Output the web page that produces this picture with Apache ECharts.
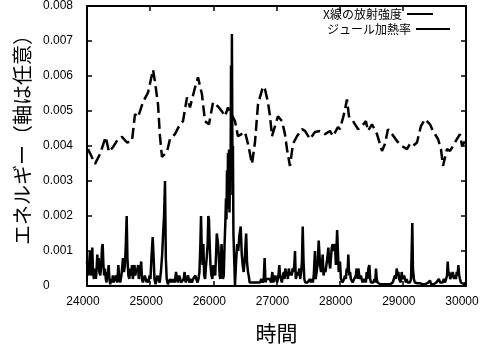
<!DOCTYPE html>
<html><head><meta charset="utf-8">
<script src="https://cdn.jsdelivr.net/npm/echarts@6/dist/echarts.min.js"></script>
<style>html,body{margin:0;padding:0;background:#fff}#c{width:485px;height:349px}</style>
</head><body><div id="c"></div>
<script>
var xTickLabels = ['24000','25000','26000','27000','28000','29000','30000'];
var yTickLabels = ['0','0.001','0.002','0.003','0.004','0.005','0.006','0.007','0.008'];
var seriesNames = ['X線の放射強度','ジュール加熱率'];

var xrayTime = [24016,24127,24206,24296,24348,24412,24491,24554,24633,24712,24760,24807,24886,24966,25045,25076,25124,25156,25187,25266,25314,25393,25472,25520,25583,25630,25710,25757,25820,25868,25931,25995,26074,26137,26185,26232,26343,26390,26501,26549,26612,26659,26707,26786,26818,26865,26897,26929,26976,27024,27087,27134,27166,27213,27261,27324,27403,27451,27530,27609,27688,27768,27847,27894,27973,28005,28068,28116,28147,28211,28290,28353,28416,28448,28512,28591,28670,28717,28765,28828,28907,28986,29066,29113,29161,29224,29287,29351,29430,29477,29557,29604,29636,29699,29747,29794,29857,29905,29937,29984];
var xrayValue = [0.00391,0.00349,0.00377,0.00426,0.00383,0.00397,0.0042,0.00426,0.0041,0.00414,0.00491,0.00482,0.00525,0.00553,0.00618,0.00584,0.00519,0.00426,0.00369,0.00383,0.0042,0.00434,0.00462,0.00471,0.00539,0.0051,0.00567,0.00596,0.00548,0.00471,0.00462,0.00525,0.00513,0.00499,0.00485,0.0051,0.00471,0.00428,0.0044,0.00406,0.00349,0.0041,0.00519,0.0057,0.00562,0.00525,0.00485,0.00428,0.00457,0.00485,0.00471,0.00434,0.00391,0.00343,0.00406,0.00428,0.00448,0.00443,0.0042,0.0044,0.00443,0.00434,0.00443,0.00428,0.00454,0.00448,0.00491,0.00533,0.00485,0.00471,0.00448,0.00457,0.00471,0.00443,0.00462,0.00434,0.00386,0.00406,0.00448,0.00434,0.00414,0.004,0.00391,0.00406,0.004,0.0041,0.00457,0.00477,0.00462,0.00443,0.0042,0.00391,0.00343,0.00391,0.00386,0.004,0.0042,0.00434,0.004,0.00414];

var jouleTime = [24000,24015,24030,24047,24060,24075,24084,24095,24110,24125,24140,24150,24163,24175,24185,24195,24210,24225,24238,24248,24260,24272,24285,24298,24310,24320,24330,24342,24355,24368,24380,24395,24410,24425,24440,24460,24480,24496,24510,24525,24545,24570,24585,24600,24615,24628,24640,24655,24670,24685,24700,24712,24725,24740,24752,24765,24780,24795,24808,24820,24832,24845,24858,24870,24885,24900,24915,24930,24945,24960,24975,24990,25005,25020,25040,25055,25068,25085,25100,25115,25130,25150,25170,25190,25205,25220,25235,25248,25262,25280,25300,25315,25330,25345,25360,25375,25390,25410,25425,25440,25460,25475,25490,25510,25530,25545,25560,25580,25600,25620,25640,25660,25680,25700,25715,25730,25750,25765,25780,25795,25805,25815,25830,25842,25855,25870,25880,25895,25910,25921,25931,25942,25955,25970,25985,26000,26015,26030,26045,26055,26068,26080,26090,26100,26110,26120,26130,26140,26152,26165,26178,26190,26200,26208,26216,26224,26232,26240,26248,26256,26264,26272,26280,26288,26294,26302,26310,26318,26343,26360,26378,26395,26410,26433,26450,26465,26480,26495,26510,26520,26533,26548,26560,26575,26590,26610,26630,26650,26670,26690,26700,26720,26740,26760,26780,26798,26812,26825,26840,26855,26870,26895,26915,26934,26950,26965,26980,26995,27010,27030,27045,27055,27070,27085,27100,27115,27128,27140,27155,27168,27180,27195,27210,27225,27240,27255,27270,27282,27293,27305,27320,27335,27348,27360,27375,27390,27403,27415,27428,27440,27455,27470,27490,27510,27530,27545,27560,27575,27590,27609,27620,27635,27650,27668,27678,27690,27705,27720,27731,27745,27760,27775,27790,27805,27821,27835,27850,27862,27875,27889,27900,27915,27926,27940,27960,27985,28005,28020,28032,28045,28058,28070,28084,28098,28111,28125,28137,28150,28164,28177,28190,28205,28216,28230,28243,28256,28269,28283,28296,28310,28322,28335,28348,28362,28375,28388,28401,28415,28428,28440,28454,28470,28483,28496,28515,28533,28550,28563,28575,28587,28600,28620,28640,28660,28680,28700,28720,28740,28760,28780,28800,28820,28840,28858,28876,28890,28903,28916,28929,28942,28955,28968,28982,28995,29008,29021,29034,29048,29061,29074,29087,29100,29113,29130,29150,29160,29175,29190,29210,29230,29250,29270,29290,29310,29330,29350,29370,29390,29410,29430,29450,29470,29490,29510,29530,29550,29570,29590,29610,29630,29650,29668,29685,29700,29710,29725,29737,29750,29762,29775,29790,29800,29812,29826,29840,29853,29866,29879,29892,29905,29920,29935,29950,29970,29990,30000];
var jouleValue = [0.0007,0.0003,0.0005,0.0010,0.0003,0.0004,0.0011,0.0004,0.0002,0.0005,0.0002,0.0004,0.0009,0.0005,0.0008,0.0004,0.0003,0.0006,0.0011,0.0012,0.0006,0.0003,0.0005,0.0002,0.0001,0.0004,0.0002,0.0006,0.0002,0.00005,0.0002,0.0001,0.0003,0.0001,0.0002,0.0003,0.0001,0.0006,0.0002,0.0001,0.0003,0.0008,0.0004,0.0006,0.0012,0.0020,0.0008,0.0003,0.0002,0.0005,0.0003,0.0006,0.0002,0.0004,0.0006,0.0003,0.0005,0.0004,0.0006,0.0002,0.0004,0.0005,0.0007,0.0002,0.0001,0.0001,0.0003,0.0002,0.0001,0.0002,0.0001,0.0003,0.0002,0.0008,0.0014,0.0008,0.0002,0.00005,0.0001,0.0003,0.0002,0.0001,0.0004,0.0009,0.0015,0.0020,0.0030,0.0008,0.0002,0.00005,0.0001,0.0002,0.0001,0.0002,0.0001,0.0002,0.0001,0.0004,0.0002,0.0001,0.0003,0.0002,0.0001,0.0001,0.0002,0.0004,0.0001,0.0002,0.0003,0.0001,0.0002,0.0001,0.0002,0.0002,0.0003,0.0002,0.0001,0.0002,0.0004,0.0012,0.0020,0.0012,0.0006,0.0012,0.0003,0.0002,0.0005,0.0008,0.0012,0.0020,0.0019,0.0012,0.0006,0.0003,0.0002,0.0006,0.0004,0.0003,0.0010,0.0015,0.0013,0.0011,0.0007,0.0003,0.0002,0.0007,0.0012,0.0008,0.0002,0.0003,0.0012,0.0018,0.0025,0.0019,0.0033,0.0022,0.0038,0.0026,0.0039,0.0021,0.0035,0.0026,0.0063,0.0030,0.0072,0.0038,0.0040,0.0015,0.00002,0.0007,0.0012,0.0010,0.0014,0.0017,0.0009,0.0006,0.0004,0.0007,0.0012,0.0015,0.0007,0.0004,0.0003,0.0001,0.0001,0.0001,0.00005,0.0001,0.0001,0.0001,0.0001,0.00005,0.0001,0.0002,0.0001,0.0002,0.0008,0.0001,0.0002,0.0002,0.0002,0.0002,0.0001,0.0004,0.0001,0.0002,0.0003,0.0002,0.0001,0.0003,0.0006,0.0003,0.0002,0.0001,0.0003,0.0004,0.0002,0.0005,0.0003,0.0004,0.0002,0.0005,0.0003,0.0004,0.0003,0.0005,0.0004,0.0006,0.0010,0.0002,0.0003,0.0004,0.0003,0.0005,0.0002,0.0004,0.0007,0.0017,0.0007,0.0002,0.0001,0.0001,0.0001,0.0001,0.0002,0.0001,0.0002,0.0001,0.0003,0.0010,0.0002,0.0004,0.0006,0.0013,0.0013,0.0006,0.0004,0.0006,0.0009,0.0003,0.0005,0.0004,0.0006,0.0008,0.0011,0.0007,0.0005,0.0008,0.0011,0.0012,0.0010,0.0011,0.0012,0.0006,0.0016,0.0004,0.0007,0.0002,0.0002,0.0001,0.0001,0.0002,0.0003,0.0002,0.0005,0.0004,0.0009,0.0003,0.0004,0.0002,0.0002,0.0001,0.0001,0.0002,0.0002,0.0003,0.0005,0.0002,0.0005,0.0003,0.0002,0.0003,0.0003,0.0001,0.0001,0.0002,0.0002,0.0001,0.0004,0.0002,0.0005,0.0006,0.0002,0.0001,0.0001,0.0001,0.0002,0.0001,0.0005,0.0002,0.0001,0.0001,0.00005,0.0001,0.00005,0.0001,0.00005,0.0001,0.00005,0.0001,0.00005,0.0001,0.0001,0.0002,0.0003,0.0002,0.0005,0.0003,0.0004,0.0002,0.0002,0.0001,0.0004,0.0002,0.0002,0.0003,0.0003,0.0001,0.0002,0.0001,0.0001,0.0001,0.0001,0.0002,0.0018,0.0005,0.0002,0.0001,0.0001,0.00008,0.0001,0.00008,0.0001,0.00005,0.0001,0.00005,0.0001,0.00008,0.0001,0.00015,0.00005,0.0001,0.00005,0.0001,0.0001,0.00015,0.0002,0.0001,0.00015,0.0001,0.0002,0.0001,0.0002,0.0003,0.0007,0.0003,0.0004,0.0002,0.0002,0.0003,0.0004,0.0004,0.0002,0.0003,0.0002,0.0004,0.0003,0.0006,0.0003,0.0002,0.0001,0.0001,0.00005,0.00005,0.0001,0.0001];

function pairs(t, v) { var out = []; for (var i = 0; i < t.length; i++) out.push([t[i], v[i]]); return out; }

var numFont = 'Liberation Sans';
var jpFont = 'Noto Sans CJK JP';
var black = '#000';

var chart = echarts.init(document.getElementById('c'), null, {renderer: 'canvas'});
var baseX = {
  type: 'value', min: 24000, max: 30000, interval: 1000,
  axisLine: {show: true, onZero: false, lineStyle: {color: black, width: 2}},
  axisTick: {show: true, inside: true, length: 5, lineStyle: {color: black, width: 1.5}},
  splitLine: {show: false}
};
var baseY = {
  type: 'value', min: 0, max: 0.008, interval: 0.001,
  axisLine: {show: true, onZero: false, lineStyle: {color: black, width: 2}},
  axisTick: {show: true, inside: true, length: 5, lineStyle: {color: black, width: 1.5}},
  splitLine: {show: false}
};
chart.setOption({
  animation: false,
  backgroundColor: '#fff',
  grid: {left: 87, right: 19, top: 6, bottom: 61, containLabel: false},
  legend: [
    {data: [seriesNames[0]], right: 52, top: 8, padding: 0, align: 'right', icon: 'rect',
     itemWidth: 26, itemHeight: 2, itemGap: 0,
     textStyle: {fontFamily: jpFont, fontSize: 12, color: black}},
    {data: [seriesNames[1]], right: 35, top: 23, padding: 0, align: 'right', icon: 'rect',
     itemWidth: 34, itemHeight: 2, itemGap: 0,
     textStyle: {fontFamily: jpFont, fontSize: 12, color: black}}
  ],
  xAxis: [
    Object.assign({}, baseX, {
      position: 'bottom',
      name: '時間', nameLocation: 'middle', nameGap: 37,
      nameTextStyle: {fontFamily: jpFont, fontSize: 21, color: black},
      axisLabel: {show: true, margin: 10, color: black, fontFamily: numFont, fontSize: 12,
        padding: [0, 8, 0, 0],
        formatter: function (v, i) { return xTickLabels[i]; }}
    }),
    Object.assign({}, baseX, {position: 'top', axisLabel: {show: false}})
  ],
  yAxis: [
    Object.assign({}, baseY, {
      position: 'left',
      name: 'エネルギー（軸は任意）', nameLocation: 'middle', nameGap: 52,
      nameTextStyle: {fontFamily: jpFont, fontSize: 20, color: black, padding: [0, 0, 0, 22]},
      axisLabel: {show: true, margin: 44, align: 'left', color: black, fontFamily: numFont, fontSize: 12,
        formatter: function (v, i) { return yTickLabels[i]; }}
    }),
    Object.assign({}, baseY, {position: 'right', axisLabel: {show: false}})
  ],
  series: [
    {name: seriesNames[0], type: 'line', xAxisIndex: 0, yAxisIndex: 0, showSymbol: false, symbol: 'none',
     data: pairs(xrayTime, xrayValue), clip: true, z: 3,
     lineStyle: {color: black, width: 2.5, type: [11, 5]}, itemStyle: {color: black}},
    {name: seriesNames[1], type: 'line', xAxisIndex: 0, yAxisIndex: 0, showSymbol: false, symbol: 'none',
     data: pairs(jouleTime, jouleValue), clip: true, z: 2,
     lineStyle: {color: black, width: 2.5}, itemStyle: {color: black}}
  ]
});
</script></body></html>
